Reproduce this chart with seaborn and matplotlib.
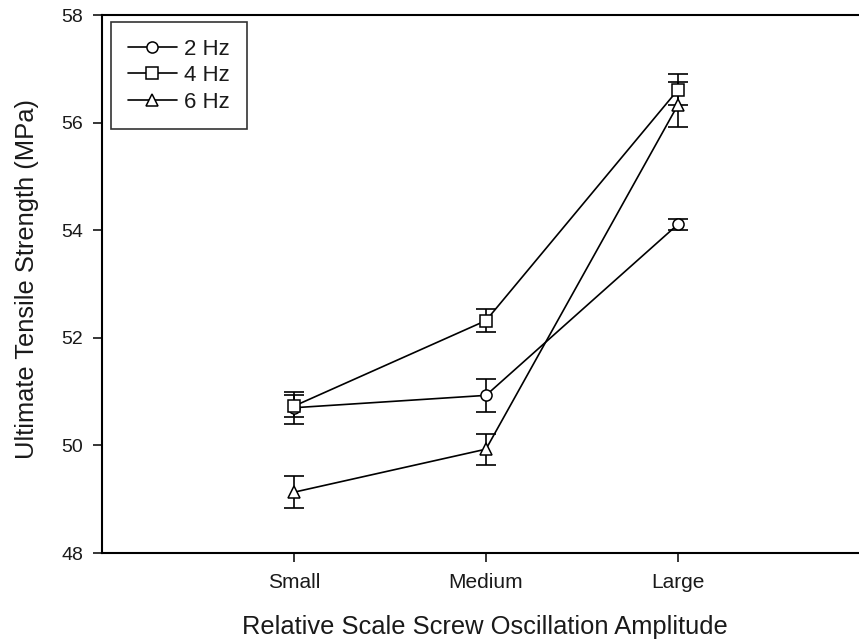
import numpy as np
import pandas as pd
import matplotlib
matplotlib.use("Agg")
import matplotlib.pyplot as plt
from matplotlib.lines import Line2D
import seaborn as sns

categories = ["Small", "Medium", "Large"]
series_names = ["2 Hz", "4 Hz", "6 Hz"]
vals_2hz = [50.7, 50.93, 54.11]
vals_4hz = [50.73, 52.32, 56.61]
vals_6hz = [49.13, 49.93, 56.33]
err_2hz = [0.3, 0.3, 0.1]
err_4hz = [0.2, 0.21, 0.29]
err_6hz = [0.3, 0.29, 0.42]
yticks = [48, 50, 52, 54, 56, 58]

sns.set_theme(style="ticks")
plt.rcParams["font.family"] = ["Liberation Sans", "DejaVu Sans"]

values = [vals_2hz, vals_4hz, vals_6hz]
errors = [err_2hz, err_4hz, err_6hz]
xpos = np.arange(len(categories))
rows = []
for name, v, e in zip(series_names, values, errors):
    for i, c in enumerate(categories):
        rows.append({"pos": xpos[i], "amp": c, "freq": name, "uts": v[i], "err": e[i]})
df = pd.DataFrame(rows)

fig = plt.figure(figsize=(8.59, 6.43), dpi=100)
ax = fig.add_axes([102 / 859, 1 - 553 / 643, 757 / 859, (553 - 15) / 643])

markers = {"2 Hz": "o", "4 Hz": "s", "6 Hz": "^"}
palette = {n: "black" for n in series_names}

# error bars behind the markers
for name in series_names:
    sub = df[df["freq"] == name]
    ax.errorbar(sub["pos"], sub["uts"], yerr=sub["err"], fmt="none",
                ecolor="black", elinewidth=1.2, capsize=7.5, capthick=1.2, zorder=2)

sns.lineplot(data=df, x="pos", y="uts", hue="freq", style="freq",
             markers=markers, dashes=False, palette=palette, ax=ax,
             legend=False, linewidth=1.2, markersize=8,
             markerfacecolor="white", markeredgecolor="black",
             markeredgewidth=1.1, zorder=3)

ax.set_xlim(-1, 2.943)
ax.set_ylim(48, 58)
ax.set_yticks(yticks)
ax.set_xticks(xpos)
ax.set_xticklabels(categories)

for s in ["left", "bottom", "top"]:
    ax.spines[s].set_linewidth(1.5)
    ax.spines[s].set_color("black")
ax.spines["right"].set_visible(False)

ax.tick_params(axis="both", direction="out", length=6.5, width=1.1,
               color="black", labelcolor="#1a1a1a", labelsize=14, pad=7)
ax.tick_params(axis="x", labelsize=15, pad=8)

ax.set_xlabel("Relative Scale Screw Oscillation Amplitude", fontsize=18.4, color="#1a1a1a")
ax.set_ylabel("Ultimate Tensile Strength (MPa)", fontsize=18.4, color="#1a1a1a")
ax.xaxis.set_label_coords(0.506, -0.115)
ax.yaxis.set_label_coords(-0.083, 0.509)

handles = [Line2D([0], [0], color="black", lw=1.2, marker=markers[n], markersize=8,
                  markerfacecolor="white", markeredgecolor="black", markeredgewidth=1.1)
           for n in series_names]
leg = ax.legend(handles, series_names, loc="upper left",
                bbox_to_anchor=(111 / 859, 1 - 22 / 643), bbox_transform=fig.transFigure,
                frameon=True, fancybox=False, edgecolor="black", fontsize=16,
                handlelength=2.2, handletextpad=0.35, labelspacing=0.25,
                borderpad=0.75, borderaxespad=0)
leg.get_frame().set_linewidth(1.2)
for t in leg.get_texts():
    t.set_color("#1a1a1a")

fig.savefig("out.png", dpi=100)
